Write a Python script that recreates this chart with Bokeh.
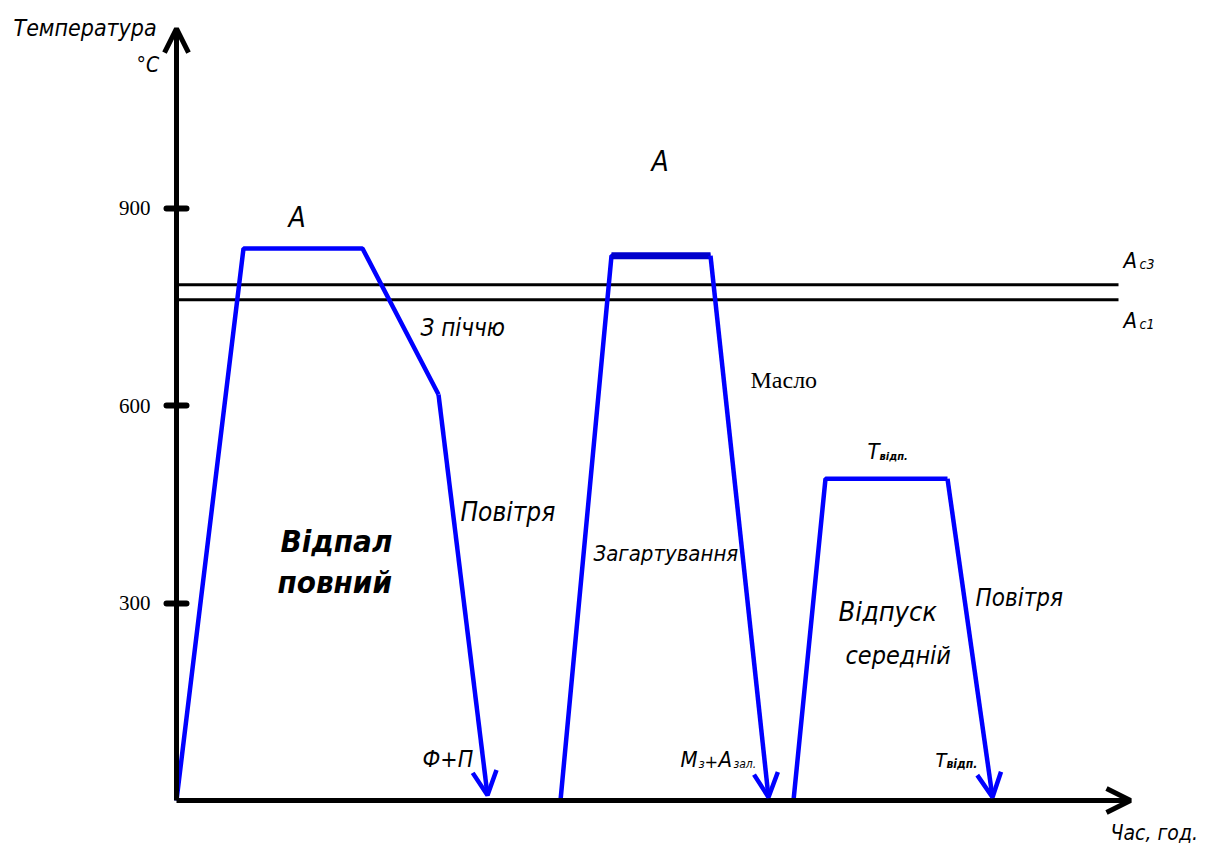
from bokeh.plotting import figure
from bokeh.models import Arrow, OpenHead, Label, Range1d, FixedTicker
from bokeh.embed import file_html
from bokeh.resources import INLINE

# ---- data (time in arbitrary hours, temperature in °C) ----
anneal_t = [0, 6.7, 18.6, 26.2, 31.1]
anneal_T = [0, 839, 839, 617, 8]
quench_t = [38.4, 43.5, 53.4, 59.2]
quench_T = [0, 828, 828, 5]
temper_t = [61.7, 64.9, 77.1, 81.6]
temper_T = [0, 489, 489, 5]
ac3_T = 784
ac1_T = 761
ac_t = [0, 94.2]
y_ticks = [300, 600, 900]
y_tick_labels = {300: "300", 600: "600", 900: "900"}
axis_t_end = 95.4
axis_T_end = 1173

TECH = "Liberation Sans Narrow, DejaVu Sans Condensed, sans-serif"
SERIF = "Liberation Serif"
BLUE = "#0000ff"

p = figure(width=1212, height=846, output_backend="svg", toolbar_location=None,
           x_range=Range1d(-17.6, 103.6), y_range=Range1d(-69.9, 1215.8),
           min_border_left=0, min_border_right=0, min_border_top=0, min_border_bottom=0)
p.outline_line_color = None
p.grid.visible = False
p.xaxis.visible = False
ya = p.yaxis[0]
ya.fixed_location = 0
ya.ticker = FixedTicker(ticks=y_ticks)
ya.major_label_overrides = y_tick_labels
ya.axis_line_color = None
ya.minor_tick_line_color = None
ya.major_tick_in = 10
ya.major_tick_out = 10
ya.major_tick_line_width = 6
ya.major_tick_line_cap = "round"
ya.major_label_standoff = 16
ya.major_label_text_font = SERIF
ya.major_label_text_font_size = "21px"
ya.major_label_text_color = "black"

# axes with arrows
p.add_layout(Arrow(x_start=0, y_start=0, x_end=0, y_end=axis_T_end, line_width=5,
                   end=OpenHead(size=24, line_width=5, line_color="black")))
p.add_layout(Arrow(x_start=0, y_start=0, x_end=axis_t_end, y_end=0, line_width=5,
                   end=OpenHead(size=24, line_width=5, line_color="black")))

# critical points
p.line(ac_t, [ac3_T, ac3_T], line_color="black", line_width=3)
p.line(ac_t, [ac1_T, ac1_T], line_color="black", line_width=3)

# heat treatment curves
p.line(anneal_t[:-1], anneal_T[:-1], line_color=BLUE, line_width=4.5)
p.add_layout(Arrow(x_start=anneal_t[-2], y_start=anneal_T[-2], x_end=anneal_t[-1], y_end=anneal_T[-1],
                   line_color=BLUE, line_width=4.5, end=OpenHead(size=24, line_width=4.5, line_color=BLUE)))
p.line(quench_t[:-1], quench_T[:-1], line_color=BLUE, line_width=4.5)
p.line(quench_t[1:3], quench_T[1:3], line_color="#0000cc", line_width=7)
p.add_layout(Arrow(x_start=quench_t[-2], y_start=quench_T[-2], x_end=quench_t[-1], y_end=quench_T[-1],
                   line_color=BLUE, line_width=4.5, end=OpenHead(size=24, line_width=4.5, line_color=BLUE)))
p.line(temper_t[:-1], temper_T[:-1], line_color=BLUE, line_width=4.5)
p.add_layout(Arrow(x_start=temper_t[-2], y_start=temper_T[-2], x_end=temper_t[-1], y_end=temper_T[-1],
                   line_color=BLUE, line_width=4.5, end=OpenHead(size=24, line_width=4.5, line_color=BLUE)))

# labels: text, x, y, size, font, style, weight
labels = [
    ("Температура", -16.3, 1174.2, 23, TECH, "italic", "normal"),
    ("°C", -4.0, 1118.5, 21, TECH, "italic", "normal"),
    ("A", 11.2, 886.3, 28, TECH, "italic", "normal"),
    ("A", 47.5, 971.4, 28, TECH, "italic", "normal"),
    ("A", 94.7, 820.4, 22, TECH, "italic", "normal"),
    ("c3", 96.3, 815.5, 14, TECH, "italic", "normal"),
    ("A", 94.7, 729.2, 22, TECH, "italic", "normal"),
    ("c1", 96.3, 724.3, 14, TECH, "italic", "normal"),
    ("З піччю", 24.4, 718.2, 24, TECH, "italic", "normal"),
    ("Масло", 57.4, 639.2, 24, SERIF, "normal", "normal"),
    ("Повітря", 28.4, 438.3, 26, TECH, "italic", "normal"),
    ("Відпал", 10.4, 395.1, 31, TECH, "italic", "bold"),
    ("повний", 10.1, 332.8, 31, TECH, "italic", "bold"),
    ("Загартування", 41.7, 375.7, 22, TECH, "italic", "normal"),
    ("Т", 69.1, 530.1, 22, TECH, "italic", "normal"),
    ("відп.", 70.3, 523.4, 11, TECH, "italic", "bold"),
    ("Відпуск", 66.2, 286.9, 27, TECH, "italic", "normal"),
    ("середній", 66.9, 220.4, 25, TECH, "italic", "normal"),
    ("Повітря", 79.9, 307.9, 24, TECH, "italic", "normal"),
    ("Ф+П", 24.6, 62.6, 23, TECH, "italic", "normal"),
    ("М", 50.4, 62.0, 22, TECH, "italic", "normal"),
    ("з", 52.2, 56.5, 13, TECH, "italic", "normal"),
    ("+", 52.8, 59.6, 18, TECH, "italic", "normal"),
    ("А", 54.2, 62.0, 22, TECH, "italic", "normal"),
    ("зал.", 55.7, 55.9, 12, TECH, "italic", "normal"),
    ("Т", 75.9, 60.8, 20, TECH, "italic", "normal"),
    ("відп.", 77.0, 55.9, 12, TECH, "italic", "bold"),
    ("Час, год.", 93.4, -50.0, 21, TECH, "italic", "normal"),
]
for txt, x, y, sz, font, style, weight in labels:
    p.add_layout(Label(x=x, y=y, text=txt, text_font=font, text_font_size=f"{sz}px",
                       text_font_style=style if weight == "normal" else ("bold italic" if style == "italic" else "bold"),
                       text_color="black", text_align="left", text_baseline="alphabetic"))

open("out.html", "w").write(file_html(p, INLINE))
